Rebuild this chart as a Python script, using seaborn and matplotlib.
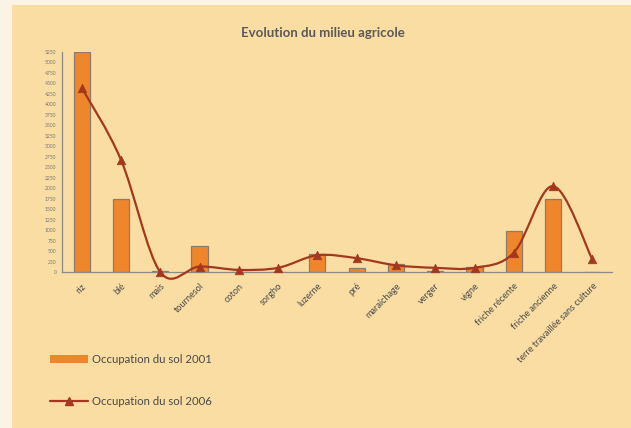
import numpy as np
import pandas as pd
import seaborn as sns
import matplotlib.pyplot as plt
from matplotlib.path import Path
from matplotlib.patches import PathPatch, Rectangle, Patch
from matplotlib.lines import Line2D

# -------- DATA --------
categories = ["riz", "blé", "maïs", "tournesol", "coton", "sorgho", "luzerne", "pré",
              "maraîchage", "verger", "vigne", "friche récente", "friche ancienne",
              "terre travaillée sans culture"]
occ_2001 = [5250, 1750, 30, 620, 0, 0, 420, 100, 180, 30, 120, 980, 1750, 0]
occ_2006 = [4400, 2680, 0, 130, 50, 100, 400, 330, 160, 100, 100, 460, 2050, 300]
y_ticks = list(range(0, 5251, 250))

label_2001 = "Occupation du sol 2001"
label_2006 = "Occupation du sol 2006"
title_text = "Evolution du milieu agricole"

# -------- STYLE --------
panel_col = "#F9DDA3"
border_col = "#FBF4E4"
bar_col = "#F0862C"
bar_edge = "#8C7C6C"
line_col = "#A3381F"
axis_col = "#8A8A8A"
text_col = "#4A4A4A"

sns.set_style("white")
plt.rcParams["font.family"] = ["Lato", "DejaVu Sans"]

df = pd.DataFrame({"cat": categories, "v2001": occ_2001, "v2006": occ_2006})
pos = np.arange(len(categories))

fig = plt.figure(figsize=(6.31, 4.28), dpi=100, facecolor=border_col)
fig.patches.append(Rectangle((12 / 631, 0), 1, 1 - 5 / 428, transform=fig.transFigure,
                             facecolor=panel_col, edgecolor="none", zorder=-10))

ax = fig.add_axes([62 / 631, 1 - 272 / 428, 550 / 631, 220 / 428])
ax.set_facecolor("none")

sns.barplot(data=df, x="cat", y="v2001", order=categories, color=bar_col,
            width=0.41, edgecolor=bar_edge, linewidth=0.9, saturation=1, ax=ax)

# smoothed line (excel-like bezier through the points)
pts = np.column_stack([pos, occ_2006]).astype(float)
ext = np.vstack([pts[0], pts, pts[-1]])
verts = [tuple(pts[0])]
codes = [Path.MOVETO]
for i in range(len(pts) - 1):
    p0, p1, p2, p3 = ext[i], ext[i + 1], ext[i + 2], ext[i + 3]
    c1 = p1 + (p2 - p0) / 6
    c2 = p2 - (p3 - p1) / 6
    verts += [tuple(c1), tuple(c2), tuple(p2)]
    codes += [Path.CURVE4] * 3
ax.add_patch(PathPatch(Path(verts, codes), facecolor="none", edgecolor=line_col,
                       linewidth=1.6, clip_on=False, zorder=3))
sns.scatterplot(x=pos, y=occ_2006, marker="^", s=38, color=line_col,
                edgecolor=line_col, ax=ax, zorder=4, clip_on=False)

ax.set_xlim(-0.5, len(categories) - 0.5)
ax.set_ylim(0, 5250)
ax.set_yticks(y_ticks)
ax.set_yticklabels([str(t) for t in y_ticks], fontsize=3.6, color="#777777")
ax.set_xticks(pos)
ax.set_xticklabels(categories, rotation=45, ha="right", rotation_mode="anchor",
                   fontsize=6.6, color=text_col)
ax.set_xticks(np.arange(-0.5, len(categories)), minor=True)
ax.tick_params(axis="x", which="major", length=0, pad=7)
ax.tick_params(axis="x", which="minor", length=4, direction="inout", color=axis_col, width=0.8)
ax.tick_params(axis="y", length=4, direction="inout", color=axis_col, width=0.8, pad=2)
ax.set_xlabel("")
ax.set_ylabel("")
sns.despine(ax=ax)
for s in ["left", "bottom"]:
    ax.spines[s].set_color(axis_col)
    ax.spines[s].set_linewidth(0.9)

fig.text(323 / 631, 1 - 33 / 428, title_text, ha="center", va="center",
         fontsize=9.5, fontweight="bold", color="#5A5A5A")

handles = [Patch(facecolor=bar_col, edgecolor="none"),
           Line2D([], [], color=line_col, marker="^", markersize=6, linewidth=1.6)]
fig.legend(handles, [label_2001, label_2006], loc="upper left",
           bbox_to_anchor=(50 / 631, 1 - 354 / 428), frameon=False,
           fontsize=8.2, labelcolor=text_col, handlelength=3.3, handleheight=0.7,
           handletextpad=0.4, labelspacing=2.7, borderpad=0, borderaxespad=0)

fig.savefig("out.png", dpi=100, facecolor=fig.get_facecolor())
plt.close(fig)
